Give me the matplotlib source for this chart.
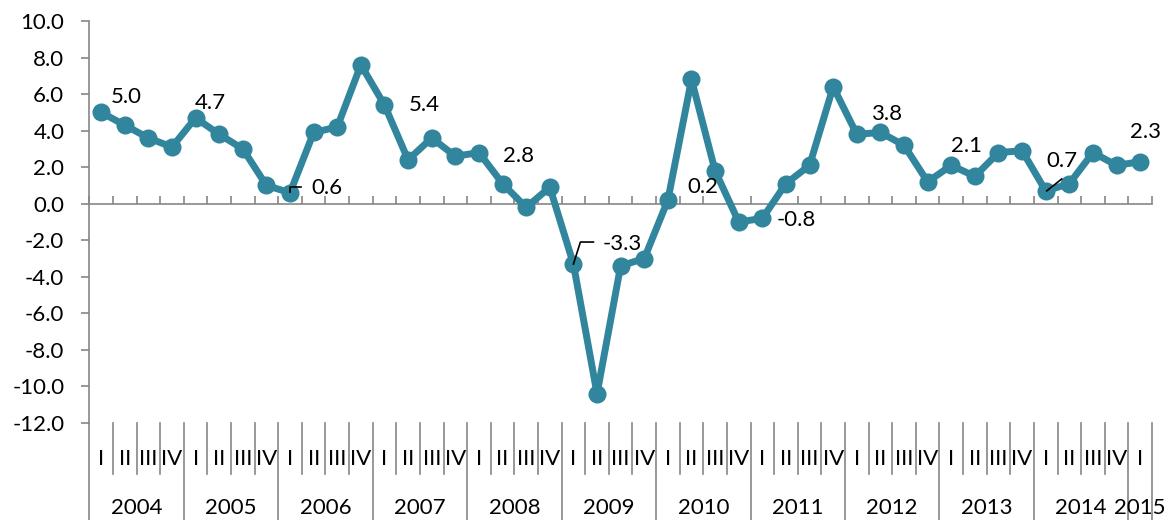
import matplotlib.pyplot as plt

plt.rcParams['font.family'] = ['Lato', 'DejaVu Sans']

# Quarterly growth, 2004 Q1 .. 2015 Q1
years = ['2004', '2005', '2006', '2007', '2008', '2009', '2010',
         '2011', '2012', '2013', '2014', '2015']
quarters = ['I', 'II', 'III', 'IV']
growth = [5.0, 4.3, 3.6, 3.1, 4.7, 3.8, 3.0, 1.0,
          0.6, 3.9, 4.2, 7.6, 5.4, 2.4, 3.6, 2.6,
          2.8, 1.1, -0.2, 0.9, -3.3, -10.4, -3.4, -3.0,
          0.2, 6.8, 1.8, -1.0, -0.8, 1.1, 2.1, 6.4,
          3.8, 3.9, 3.2, 1.2, 2.1, 1.5, 2.8, 2.9,
          0.7, 1.1, 2.8, 2.1, 2.3]

# labelled points: index -> (dx, dy) offset of the label in pixels
labelled = {0: (25, 15), 4: (15, 15), 8: (37, 5), 12: (40, 0),
            16: (40, -3), 20: (49, 20), 24: (35, 13), 28: (34, -2),
            32: (30, 20), 36: (15, 19), 40: (16, 30), 44: (5, 30)}

teal = '#31859C'
grey = '#868686'
fs = 16

fig = plt.figure(figsize=(11.72, 5.2), dpi=100)
ax = fig.add_axes([89.3 / 1172, 1 - 423 / 520, (1152 - 89.3) / 1172, 402 / 520])

n = len(growth)
xs = [i + 0.5 for i in range(n)]
ax.plot(xs, growth, color=teal, lw=5, marker='o', ms=13,
        markeredgewidth=0, solid_joinstyle='round', zorder=3)

ax.set_xlim(0, n)
ax.set_ylim(-12, 10)
ax.set_yticks(range(-12, 11, 2))
ax.set_yticklabels([f'{v:.1f}' for v in range(-12, 11, 2)], fontsize=fs)

for s in ['top', 'right']:
    ax.spines[s].set_visible(False)
ax.spines['left'].set_color(grey)
ax.spines['left'].set_linewidth(1.2)
ax.spines['bottom'].set_position(('data', 0))
ax.spines['bottom'].set_color(grey)
ax.spines['bottom'].set_linewidth(1.2)

ax.tick_params(axis='y', direction='out', length=6, width=1.2, color=grey, pad=12)
ax.set_xticks(range(n + 1))
ax.tick_params(axis='x', direction='in', length=6, width=1.2, color=grey,
               labelbottom=False)

# data labels
for i, (dx, dy) in labelled.items():
    ax.annotate(f'{growth[i]:.1f}', (xs[i], growth[i]),
                xytext=(dx, dy), textcoords='offset pixels',
                ha='center', va='center', fontsize=fs, zorder=4)


def leader(i, pts):
    # short black connector drawn in pixel offsets from point i
    base = ax.transData.transform((xs[i], growth[i]))
    path = [(base[0] + a, base[1] + b) for a, b in pts]
    ax.plot([p[0] for p in path], [p[1] for p in path], color='black',
            lw=1.2, transform=None, zorder=5)


fig.canvas.draw()
leader(8, [(0, 1), (0, 6), (11, 6)])
leader(20, [(0, 0), (7, 22), (20, 22)])
leader(40, [(1, 0), (16, 12)])

# two-level category axis below the plot
trans = ax.get_xaxis_transform()
h = 402.0
for k in range(n + 1):
    bottom = -97 / h if k % 4 == 0 or k == n else -51 / h
    ax.plot([k, k], [0, bottom], color=grey, lw=1.2, transform=trans,
            clip_on=False)
for i in range(n):
    ax.text(xs[i], -36 / h, quarters[i % 4], transform=trans, ha='center',
            va='center', fontsize=fs)
for j, yr in enumerate(years):
    count = min(4, n - 4 * j)
    ax.text(4 * j + count / 2, -85 / h, yr, transform=trans, ha='center',
            va='center', fontsize=fs)

fig.savefig('out.png', dpi=100)
